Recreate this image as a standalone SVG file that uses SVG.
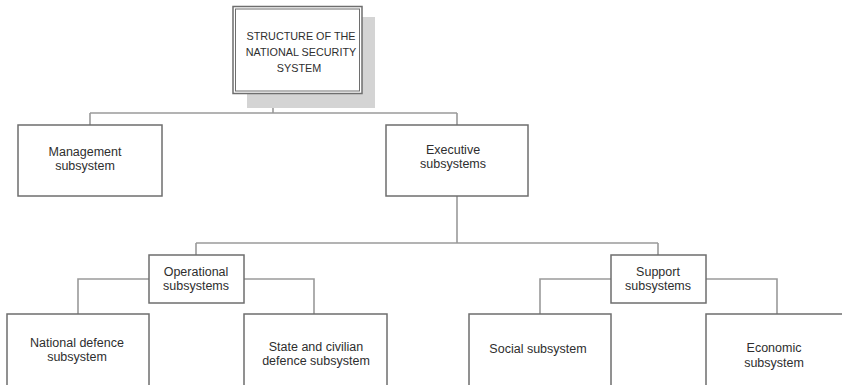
<svg xmlns="http://www.w3.org/2000/svg" width="842" height="385" viewBox="0 0 842 385">
<style>
.box{fill:#fff;stroke:#6e6e6e;stroke-width:1.5}
.ln{fill:none;stroke:#9a9a9a;stroke-width:1.6}
text{font-family:"Liberation Sans",Arial,sans-serif;font-size:12.5px;fill:#2e2e2e;text-anchor:middle}
.t{font-size:10.8px}
</style>
<rect width="842" height="385" fill="#fff"/>
<g id="connectors">
<path class="ln" d="M273,94 V113 M90,113 H457 M90,113 V125 M457,113 V125"/>
<path class="ln" d="M457,196 V243 M196,243 H658 M196,243 V255 M658,243 V255"/>
<path class="ln" d="M149,279 H78 V314 M244,279 H314 V314"/>
<path class="ln" d="M611,279 H540 V314 M706,279 H777 V314"/>
</g>
<g id="root">
<rect x="247" y="17" width="128" height="91" fill="#d4d4d4"/>
<rect class="box" x="233" y="6.5" width="129" height="87"/>
<rect x="235.5" y="9" width="124" height="82" fill="none" stroke="#6e6e6e" stroke-width="1"/>
<text class="t" x="301" y="40">STRUCTURE OF THE</text>
<text class="t" x="301" y="56">NATIONAL SECURITY</text>
<text class="t" x="299" y="72">SYSTEM</text>
</g>
<g id="management">
<rect class="box" x="18" y="125" width="144" height="71"/>
<text x="85" y="156">Management</text>
<text x="85" y="170">subsystem</text>
</g>
<g id="executive">
<rect class="box" x="386" y="125" width="142" height="71"/>
<text x="453" y="154">Executive</text>
<text x="453" y="168">subsystems</text>
</g>
<g id="operational">
<rect class="box" x="149" y="255" width="95" height="48"/>
<text x="196" y="276">Operational</text>
<text x="196" y="290">subsystems</text>
</g>
<g id="support">
<rect class="box" x="611" y="255" width="95" height="48"/>
<text x="658" y="276">Support</text>
<text x="658" y="290">subsystems</text>
</g>
<g id="national-defence">
<rect class="box" x="7" y="314" width="142" height="80"/>
<text x="77" y="347">National defence</text>
<text x="77" y="361">subsystem</text>
</g>
<g id="state-civilian">
<rect class="box" x="244" y="314" width="143" height="80"/>
<text x="316" y="351">State and civilian</text>
<text x="316" y="365">defence subsystem</text>
</g>
<g id="social">
<rect class="box" x="469" y="314" width="142" height="80"/>
<text x="538" y="353">Social subsystem</text>
</g>
<g id="economic">
<rect class="box" x="706" y="314" width="142" height="80"/>
<text x="774" y="352">Economic</text>
<text x="774" y="367">subsystem</text>
</g>
</svg>
